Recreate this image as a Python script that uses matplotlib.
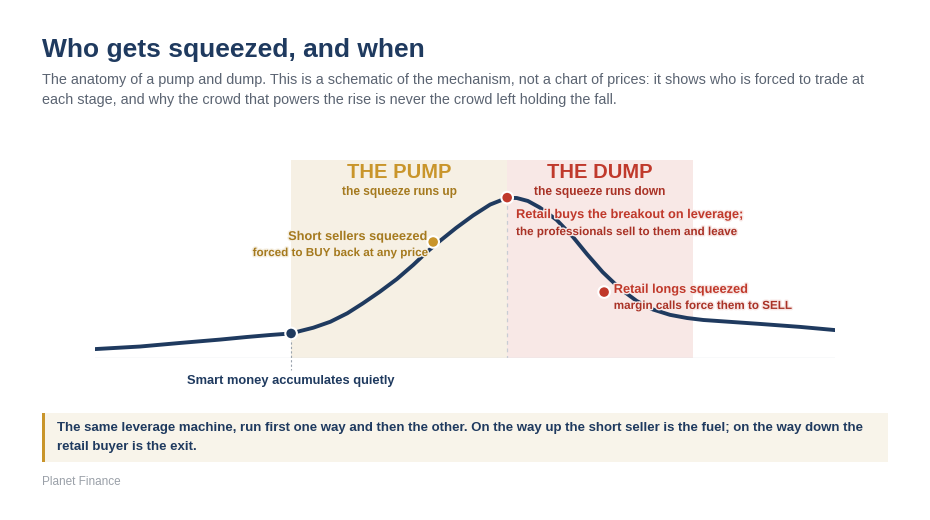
import matplotlib.pyplot as plt
import matplotlib.patheffects as pe

plt.rcParams['font.family'] = ['Liberation Sans', 'DejaVu Sans']

NAVY = "#1f3a5f"
GOLD = "#c9952b"
GOLD_DARK = "#a57a1f"
RED = "#c0392b"
RED_DARK = "#a93226"
PUMP_BG = "#f6f0e4"
DUMP_BG = "#f8e8e6"

# schematic price path (time 0-100, price index 0-100)
t = [0.0, 6.1, 11.5, 16.9, 20.5, 23.6, 26.5, 27.7, 29.5, 31.8, 34.1, 36.2, 38.5,
     40.8, 43.0, 44.9, 46.6, 48.8, 51.1, 53.4, 55.7, 57.0, 58.5, 60.1, 62.4, 64.6,
     66.5, 68.6, 70.9, 73.2, 75.4, 77.7, 80.0, 82.2, 84.5, 89.9, 95.3, 100.0]
price = [4.5, 5.8, 7.6, 9.3, 10.6, 11.6, 12.4, 13.6, 15.3, 18.3, 22.6, 27.6, 33.5,
         39.9, 47.0, 53.7, 59.1, 65.7, 72.0, 77.5, 80.9, 80.8, 79.3, 76.0, 69.7, 61.1,
         52.4, 43.4, 35.2, 28.8, 24.5, 21.8, 20.2, 19.2, 18.6, 17.2, 15.7, 14.1]

# phases
pump_start, peak_t, dump_end = 26.5, 55.7, 80.8

# marked events
event_t = [26.5, 45.7, 55.7, 68.8]
event_p = [12.4, 58.6, 81.0, 33.3]
event_col = [NAVY, GOLD, RED, RED]

fig = plt.figure(figsize=(9.3, 5.2), dpi=100)
ax = fig.add_axes([95 / 930, 1 - 358 / 520, 740 / 930, 198 / 520])
ax.set_xlim(0, 100)
ax.set_ylim(0, 100)
ax.axis("off")

ax.axvspan(pump_start, peak_t, color=PUMP_BG, zorder=0, lw=0)
ax.axvspan(peak_t, dump_end, color=DUMP_BG, zorder=0, lw=0)
ax.axhline(0, color="#dde1e8", lw=1, zorder=1)

ax.plot([pump_start, pump_start], [event_p[0], -6], ls=(0, (2, 2)), color="#9aa3ad",
        lw=0.8, zorder=1, clip_on=False)
ax.plot([peak_t, peak_t], [event_p[2], 0], ls=(0, (3, 3)), color="#c8ccd4",
        lw=0.9, zorder=1)

ax.plot(t, price, color=NAVY, lw=2.8, solid_capstyle="round", solid_joinstyle="round",
        zorder=3)
ax.scatter(event_t, event_p, s=70, c=event_col, edgecolors="white", linewidths=1.5,
           zorder=5)

def halo(c):
    return [pe.withStroke(linewidth=2, foreground=c)]

ax.text(41.1, 93.6, "THE PUMP", color=GOLD, fontsize=14.5, fontweight="bold",
        ha="center", va="center")
ax.text(41.1, 83.8, "the squeeze runs up", color=GOLD_DARK, fontsize=8.6,
        fontweight="bold", ha="center", va="center")
ax.text(68.2, 93.6, "THE DUMP", color=RED, fontsize=14.5, fontweight="bold",
        ha="center", va="center")
ax.text(68.2, 83.8, "the squeeze runs down", color=RED_DARK, fontsize=8.6,
        fontweight="bold", ha="center", va="center")

ax.text(44.9, 61.1, "Short sellers squeezed", color=GOLD_DARK, fontsize=9.2,
        fontweight="bold", ha="right", va="center", path_effects=halo(PUMP_BG), zorder=4)
ax.text(45.0, 53.0, "forced to BUY back at any price", color=GOLD_DARK, fontsize=8.4,
        fontweight="bold", ha="right", va="center", path_effects=halo(PUMP_BG), zorder=4)
ax.text(56.9, 72.2, "Retail buys the breakout on leverage;", color=RED, fontsize=9.2,
        fontweight="bold", ha="left", va="center", path_effects=halo(DUMP_BG), zorder=4)
ax.text(56.9, 63.6, "the professionals sell to them and leave", color=RED_DARK,
        fontsize=8.4, fontweight="bold", ha="left", va="center",
        path_effects=halo(DUMP_BG), zorder=4)
ax.text(70.1, 34.4, "Retail longs squeezed", color=RED, fontsize=9.2,
        fontweight="bold", ha="left", va="center", path_effects=halo(DUMP_BG), zorder=4)
ax.text(70.1, 26.3, "margin calls force them to SELL", color=RED_DARK, fontsize=8.4,
        fontweight="bold", ha="left", va="center", path_effects=halo(DUMP_BG), zorder=4)
ax.text(26.5, -11.4, "Smart money accumulates quietly", color=NAVY, fontsize=9.25,
        fontweight="bold", ha="center", va="center", clip_on=False)

# header
fig.text(42 / 930, 1 - 50 / 520, "Who gets squeezed, and when", color=NAVY,
         fontsize=19, fontweight="bold", va="center")
fig.text(42 / 930, 1 - 80 / 520,
         "The anatomy of a pump and dump. This is a schematic of the mechanism, not a chart "
         "of prices: it shows who is forced to trade at", color="#5b6472", fontsize=10.35,
         va="center")
fig.text(42 / 930, 1 - 100 / 520,
         "each stage, and why the crowd that powers the rise is never the crowd left "
         "holding the fall.", color="#5b6472", fontsize=10.35, va="center")

# callout box
box = fig.add_axes([42 / 930, 1 - 462 / 520, 846 / 930, 49 / 520])
box.set_xlim(0, 1)
box.set_ylim(0, 1)
box.axis("off")
box.add_patch(plt.Rectangle((0, 0), 1, 1, color="#f8f4ea", lw=0))
box.add_patch(plt.Rectangle((0, 0), 3 / 846, 1, color=GOLD, lw=0))
fig.text(57 / 930, 1 - 428 / 520,
         "The same leverage machine, run first one way and then the other. On the way up "
         "the short seller is the fuel; on the way down the", color=NAVY, fontsize=9.5,
         fontweight="bold", va="center")
fig.text(57 / 930, 1 - 447 / 520, "retail buyer is the exit.", color=NAVY, fontsize=9.5,
         fontweight="bold", va="center")

fig.text(42 / 930, 1 - 482 / 520, "Planet Finance", color="#9aa0a8", fontsize=8.5,
         va="center")

fig.savefig("out.png", dpi=100, facecolor="white")
